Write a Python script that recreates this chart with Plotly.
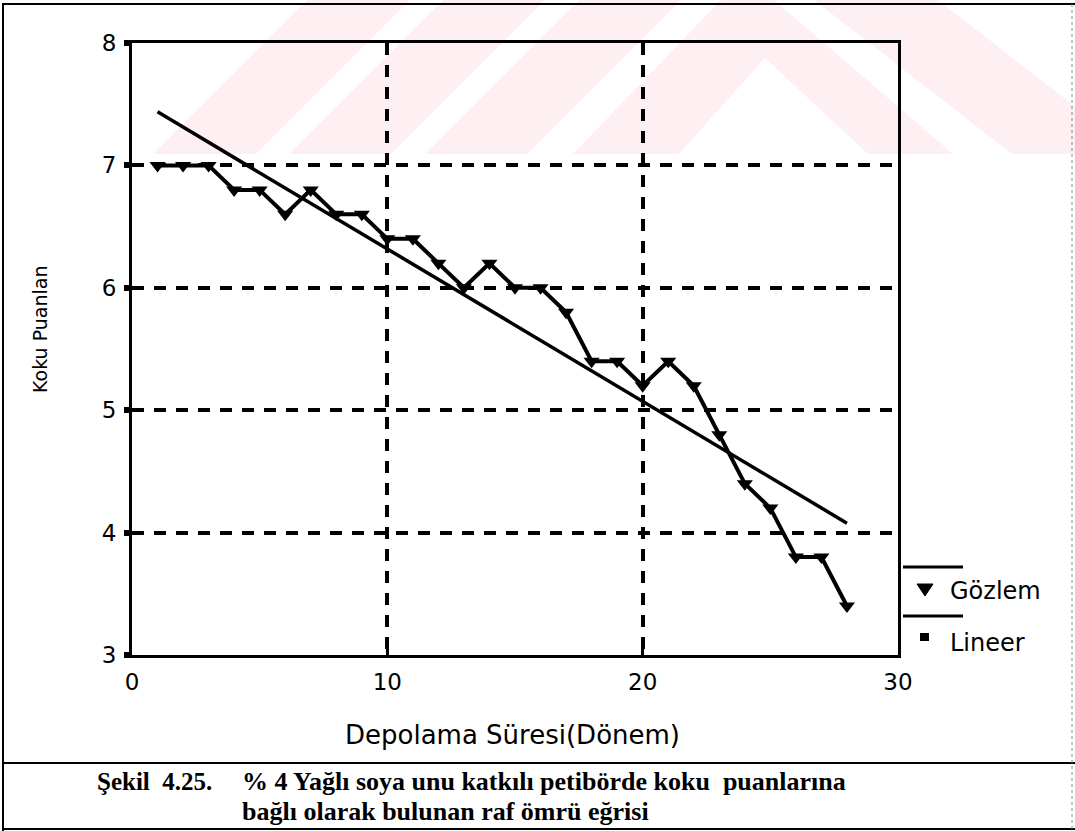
import numpy as np
import plotly.graph_objects as go

# Storage period (Dönem) and observed odour scores
donem = list(range(1, 29))
koku_puani = [7.0, 7.0, 7.0, 6.8, 6.8, 6.6, 6.8, 6.6, 6.6, 6.4, 6.4, 6.2, 6.0, 6.2,
              6.0, 6.0, 5.8, 5.4, 5.4, 5.2, 5.4, 5.2, 4.8, 4.4, 4.2, 3.8, 3.8, 3.4]
x_ticks = [0, 10, 20, 30]
y_ticks = [3, 4, 5, 6, 7, 8]

# Linear regression of the observed scores
egim, kesim = np.polyfit(donem, koku_puani, 1)
lineer = [kesim + egim * x for x in donem]

W, H = 1075, 831
L, R, T, B = 132, 898, 43, 655  # plot area edges in pixels
SANS = "DejaVu Sans"
SERIF = "Liberation Serif"


def px(x):
    return (x - L) / (R - L)


def py(y):
    return (B - y) / (B - T)


def path(points, close=True):
    d = "M " + " L ".join(f"{px(a):.5f},{py(b):.5f}" for a, b in points)
    return d + (" Z" if close else "")


shapes = []

# faint background emblem
pink = "#fdeff2"
emblem = [
    [(153, 154), (256, 154), (410, 0), (307, 0)],
    [(289, 154), (391, 154), (545, 0), (443, 0)],
    [(425, 154), (527, 154), (681, 0), (579, 0)],
    [(814, 0), (938, 0), (1136, 154), (1012, 154)],
]
for poly in emblem:
    shapes.append(dict(type="path", xref="paper", yref="paper", path=path(poly),
                       fillcolor=pink, line=dict(width=0), layer="below"))
a_outer = path([(573, 154), (953, 154), (774, 0), (721, 0)])
a_inner = path([(679, 154), (868, 154), (765, 58)])
shapes.append(dict(type="path", xref="paper", yref="paper", path=a_outer + " " + a_inner,
                   fillrule="evenodd", fillcolor=pink, line=dict(width=0), layer="below"))

# outer frame and caption separator
frame = dict(color="black", width=2)
for x0, y0, x1, y1 in [(3, 3, 3, 831), (3, 4, 1075, 4), (3, 763, 1075, 763),
                       (3, 829, 1075, 829)]:
    shapes.append(dict(type="line", xref="paper", yref="paper",
                       x0=px(x0), y0=py(y0), x1=px(x1), y1=py(y1), line=frame))
shapes.append(dict(type="line", xref="paper", yref="paper",
                   x0=px(1072), y0=py(4), x1=px(1072), y1=py(829),
                   line=dict(color="#888888", width=1, dash="dot")))

# legend entries
for yy in (567, 616):
    shapes.append(dict(type="line", xref="paper", yref="paper",
                       x0=px(903), y0=py(yy), x1=px(963), y1=py(yy),
                       line=dict(color="black", width=3)))
shapes.append(dict(type="path", xref="paper", yref="paper",
                   path=path([(917, 584), (933, 584), (925, 596)]),
                   fillcolor="black", line=dict(color="black", width=1)))
shapes.append(dict(type="rect", xref="paper", yref="paper",
                   x0=px(920), y0=py(633), x1=px(929), y1=py(641),
                   fillcolor="black", line=dict(width=0)))


def label(text, x, y, size, family=SANS, anchor="left", angle=0):
    return dict(text=text, x=px(x), y=py(y), xref="paper", yref="paper",
                xanchor=anchor, yanchor="middle", showarrow=False, textangle=angle,
                font=dict(family=family, size=size, color="black"))


annotations = [
    label("Gözlem", 948, 591, 24),
    label("Lineer", 948, 643, 24),
    label("Koku Puanlan", 40, 330, 19, anchor="center", angle=-90),
    label("Depolama Süresi(Dönem)", 512, 735, 26, anchor="center"),
    label("<b>Şekil  4.25.</b>", 95, 781, 25, family=SERIF),
    label("<b>% 4 Yağlı soya unu katkılı petibörde koku  puanlarına</b>", 240, 781, 26,
          family=SERIF),
    label("<b>bağlı olarak bulunan raf ömrü eğrisi</b>", 240, 811, 26, family=SERIF),
]

fig = go.Figure()
fig.add_trace(go.Scatter(x=donem, y=lineer, mode="lines", name="Lineer",
                         line=dict(color="black", width=3.5)))
fig.add_trace(go.Scatter(x=donem, y=koku_puani, mode="lines+markers", name="Gözlem",
                         line=dict(color="black", width=4),
                         marker=dict(symbol="triangle-down", size=14, color="black")))

axis_common = dict(showline=True, linecolor="black", linewidth=3, mirror=True,
                   showgrid=True, gridcolor="black", gridwidth=3.5, griddash="12px,10px",
                   zeroline=False, tickcolor="black",
                   tickfont=dict(family=SANS, size=23, color="black"))

fig.update_layout(
    width=W, height=H,
    margin=dict(l=L, r=W - R, t=T, b=H - B),
    paper_bgcolor="white", plot_bgcolor="rgba(0,0,0,0)",
    showlegend=False,
    font=dict(family=SANS, color="black"),
    xaxis=dict(range=[0, 30], tickvals=x_ticks, ticks="inside", ticklen=8, tickwidth=3,
               ticklabelstandoff=4, **axis_common),
    yaxis=dict(range=[3, 8], tickvals=y_ticks, ticks="outside", ticklen=5, tickwidth=6,
               ticklabelstandoff=3, **axis_common),
    shapes=shapes,
    annotations=annotations,
)

fig.write_html("out.html")
